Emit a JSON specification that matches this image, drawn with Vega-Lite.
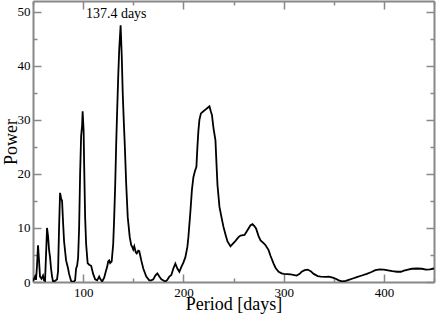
{
 "$schema": "https://vega.github.io/schema/vega-lite/v6.json",
 "width": 401, "height": 281,
 "autosize": "none",
 "padding": {"left": 33, "top": 1, "right": 2, "bottom": 33},
 "config": {"view": {"stroke": null}, "font": "Liberation Serif",
   "axis": {"grid": false, "domainColor": "#888888", "domainWidth": 2, "tickColor": "#888888", "tickWidth": 1.5,
     "labelColor": "black", "labelFontSize": 13, "titleColor": "black", "titleFontSize": 18, "titleFontWeight": "normal"}},
 "datasets": {
  "pg": [
   {"period": 50, "power": 0.2}, {"period": 51, "power": 0.6}, {"period": 52, "power": 1.0}, {"period": 53, "power": 0.4},
   {"period": 54, "power": 3.0}, {"period": 55, "power": 6.8}, {"period": 56, "power": 4.0}, {"period": 57, "power": 1.0},
   {"period": 58.5, "power": 0.6}, {"period": 60, "power": 1.2}, {"period": 61, "power": 0.3}, {"period": 62, "power": 0.2},
   {"period": 63, "power": 5.0}, {"period": 64, "power": 10.0}, {"period": 65, "power": 8.5}, {"period": 66, "power": 6.0},
   {"period": 67, "power": 4.6}, {"period": 68, "power": 2.5}, {"period": 69, "power": 1.0}, {"period": 70, "power": 0.1},
   {"period": 72, "power": 0.2}, {"period": 74, "power": 0.5}, {"period": 75, "power": 2.0}, {"period": 76, "power": 10.0},
   {"period": 77, "power": 16.5}, {"period": 78, "power": 15.5}, {"period": 79, "power": 15.0}, {"period": 80, "power": 11.0},
   {"period": 81, "power": 7.5}, {"period": 83, "power": 4.0}, {"period": 85, "power": 2.5}, {"period": 86, "power": 1.5},
   {"period": 88, "power": 0.2}, {"period": 90, "power": 0.0}, {"period": 92, "power": 0.3}, {"period": 93, "power": 2.5},
   {"period": 94, "power": 3.0}, {"period": 95, "power": 4.5}, {"period": 96, "power": 10}, {"period": 97, "power": 20},
   {"period": 98, "power": 27}, {"period": 99, "power": 29}, {"period": 99.5, "power": 31.6}, {"period": 100.5, "power": 28},
   {"period": 101, "power": 22}, {"period": 102, "power": 12}, {"period": 103, "power": 7}, {"period": 104.5, "power": 3.5},
   {"period": 106, "power": 3.2}, {"period": 108, "power": 3.0}, {"period": 110, "power": 1.5}, {"period": 112, "power": 0.5},
   {"period": 114, "power": 0.3}, {"period": 116, "power": 1.0}, {"period": 117, "power": 0.6}, {"period": 119, "power": 0.1},
   {"period": 121, "power": 0.8}, {"period": 123, "power": 2.2}, {"period": 124, "power": 2.8}, {"period": 125, "power": 3.8},
   {"period": 126, "power": 4.0}, {"period": 127, "power": 3.5}, {"period": 128.5, "power": 3.8}, {"period": 130, "power": 7.0},
   {"period": 131, "power": 12}, {"period": 132, "power": 18}, {"period": 133, "power": 25.6}, {"period": 134, "power": 32},
   {"period": 135, "power": 38}, {"period": 136, "power": 43}, {"period": 137.4, "power": 47.5}, {"period": 138.5, "power": 42},
   {"period": 139.5, "power": 35}, {"period": 140.5, "power": 30}, {"period": 141.5, "power": 25.6}, {"period": 143, "power": 18},
   {"period": 144.5, "power": 12}, {"period": 146.5, "power": 8.3}, {"period": 148, "power": 6.8}, {"period": 149, "power": 6.5},
   {"period": 150, "power": 6.0}, {"period": 151, "power": 6.6}, {"period": 152.5, "power": 5.5}, {"period": 153.5, "power": 5.3},
   {"period": 155, "power": 5.8}, {"period": 156, "power": 5.7}, {"period": 158, "power": 4.0}, {"period": 160, "power": 2.5},
   {"period": 163, "power": 1.0}, {"period": 166, "power": 0.3}, {"period": 168, "power": 0.3}, {"period": 170, "power": 0.5},
   {"period": 172, "power": 1.2}, {"period": 174, "power": 1.6}, {"period": 176, "power": 1.0}, {"period": 178, "power": 0.5},
   {"period": 182, "power": 0.1}, {"period": 184, "power": 0.4}, {"period": 186, "power": 1.0}, {"period": 188, "power": 1.3},
   {"period": 190, "power": 2.5}, {"period": 192, "power": 3.4}, {"period": 194, "power": 2.5}, {"period": 196, "power": 1.9},
   {"period": 198, "power": 2.8}, {"period": 200, "power": 3.6}, {"period": 202, "power": 4.6}, {"period": 204, "power": 6.5},
   {"period": 205, "power": 8.3}, {"period": 207, "power": 13}, {"period": 208.5, "power": 17}, {"period": 210, "power": 19.4},
   {"period": 211.5, "power": 20.5}, {"period": 213, "power": 21.3}, {"period": 214, "power": 25}, {"period": 215, "power": 28},
   {"period": 216, "power": 30}, {"period": 217.5, "power": 31.2}, {"period": 220, "power": 31.6}, {"period": 222, "power": 31.9},
   {"period": 224, "power": 32.2}, {"period": 226, "power": 32.5}, {"period": 227.5, "power": 31.5}, {"period": 228.5, "power": 30.9},
   {"period": 230, "power": 28.5}, {"period": 232, "power": 26.2}, {"period": 233, "power": 22}, {"period": 234, "power": 18},
   {"period": 236, "power": 13.9}, {"period": 238, "power": 12}, {"period": 240, "power": 10.2}, {"period": 242, "power": 8.8},
   {"period": 244, "power": 7.5}, {"period": 247, "power": 6.6}, {"period": 249, "power": 7.0}, {"period": 252, "power": 7.6},
   {"period": 255, "power": 8.3}, {"period": 257, "power": 8.6}, {"period": 261, "power": 8.7}, {"period": 263, "power": 9.3},
   {"period": 265, "power": 9.9}, {"period": 267, "power": 10.5}, {"period": 269, "power": 10.7}, {"period": 271, "power": 10.3},
   {"period": 272.5, "power": 9.9}, {"period": 275, "power": 8.5}, {"period": 277, "power": 7.7}, {"period": 280, "power": 7.2},
   {"period": 282, "power": 6.8}, {"period": 285, "power": 5.9}, {"period": 287, "power": 4.8}, {"period": 290, "power": 3.4},
   {"period": 292, "power": 2.6}, {"period": 295, "power": 1.9}, {"period": 298, "power": 1.6}, {"period": 300, "power": 1.5},
   {"period": 307, "power": 1.4}, {"period": 313, "power": 1.2}, {"period": 316, "power": 1.5}, {"period": 318, "power": 1.9},
   {"period": 321, "power": 2.2}, {"period": 324, "power": 2.3}, {"period": 327, "power": 2.0}, {"period": 330, "power": 1.5},
   {"period": 334, "power": 1.1}, {"period": 337, "power": 1.0}, {"period": 342, "power": 0.95}, {"period": 345, "power": 1.0},
   {"period": 349, "power": 0.8}, {"period": 352, "power": 0.6}, {"period": 355, "power": 0.3}, {"period": 358.5, "power": 0.1},
   {"period": 362, "power": 0.2}, {"period": 365, "power": 0.4}, {"period": 369, "power": 0.65}, {"period": 373, "power": 0.9},
   {"period": 378, "power": 1.2}, {"period": 383, "power": 1.5}, {"period": 387, "power": 1.8}, {"period": 391.5, "power": 2.2},
   {"period": 396, "power": 2.35}, {"period": 400, "power": 2.3}, {"period": 404, "power": 2.15}, {"period": 408.5, "power": 2.0},
   {"period": 413, "power": 1.9}, {"period": 417, "power": 1.9}, {"period": 420, "power": 2.1}, {"period": 424, "power": 2.3},
   {"period": 428, "power": 2.45}, {"period": 433, "power": 2.5}, {"period": 438, "power": 2.45}, {"period": 442, "power": 2.3},
   {"period": 446, "power": 2.35}, {"period": 450, "power": 2.5}
  ],
  "ann": [{"period": 133, "power": 48.8, "label": "137.4 days"}]
 },
 "layer": [
  {
   "data": {"name": "pg"},
   "mark": {"type": "line", "color": "black", "strokeWidth": 1.8, "clip": true},
   "encoding": {
    "x": {"field": "period", "type": "quantitative", "scale": {"domain": [50, 450], "nice": false, "zero": false},
      "axis": {"orient": "bottom", "title": "Period [days]", "values": [50,100,150,200,250,300,350,400,450],
        "labelExpr": "datum.value % 100 === 0 ? datum.label : ''", "labelPadding": 12, "titlePadding": -4, "labelFlush": false,
        "tickSize": {"condition": {"test": "datum.value % 100 === 0", "value": -8}, "value": -4}}},
    "y": {"field": "power", "type": "quantitative", "scale": {"domain": [0, 52], "nice": false},
      "axis": {"orient": "left", "title": "Power", "values": [0,5,10,15,20,25,30,35,40,45,50],
        "labelExpr": "datum.value % 10 === 0 ? datum.label : ''", "labelPadding": 11, "titlePadding": -3, "labelFlush": false,
        "tickSize": {"condition": {"test": "datum.value % 10 === 0", "value": -8}, "value": -4}}}
   }
  },
  {
   "data": {"name": "pg"},
   "mark": {"type": "line", "strokeOpacity": 0},
   "encoding": {
    "x": {"field": "period", "type": "quantitative", "scale": {"domain": [50, 450], "nice": false, "zero": false},
      "axis": {"orient": "top", "title": null, "labels": false, "values": [50,100,150,200,250,300,350,400,450],
        "tickSize": {"condition": {"test": "datum.value % 100 === 0", "value": -8}, "value": -4}}},
    "y": {"field": "power", "type": "quantitative", "scale": {"domain": [0, 52], "nice": false},
      "axis": {"orient": "right", "title": null, "labels": false, "values": [0,5,10,15,20,25,30,35,40,45,50],
        "tickSize": {"condition": {"test": "datum.value % 10 === 0", "value": -8}, "value": -4}}}
   }
  },
  {
   "data": {"name": "ann"},
   "mark": {"type": "text", "fontSize": 14, "font": "Liberation Serif", "align": "center", "baseline": "alphabetic", "color": "black"},
   "encoding": {
    "x": {"field": "period", "type": "quantitative", "axis": null},
    "y": {"field": "power", "type": "quantitative", "axis": null},
    "text": {"field": "label"}
   }
  }
 ],
 "resolve": {"axis": {"x": "independent", "y": "independent"}}
}
